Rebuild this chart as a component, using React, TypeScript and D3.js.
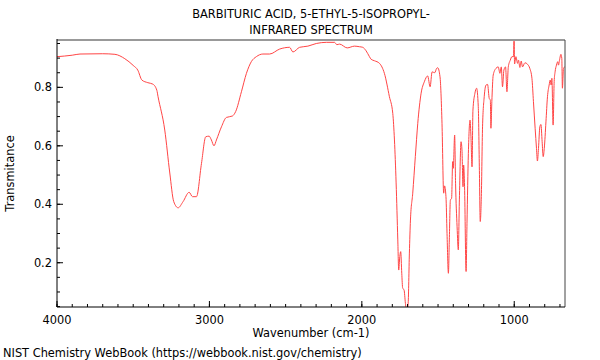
import React from "react";
import * as d3 from "d3";

const wavenumbers = [
  4000, 3900, 3849, 3700, 3620, 3555, 3500, 3470, 3443, 3404, 3371, 3345, 3337, 3293, 3260, 3234, 3205, 3173, 3133, 3111,
  3085, 3052, 3024, 3002, 2987, 2970, 2954, 2921, 2889, 2849, 2828, 2790, 2757, 2725, 2692, 2649, 2605, 2539, 2474, 2452,
  2408, 2354, 2299, 2233, 2179, 2164, 2146, 2096, 2048, 2016, 1994, 1972, 1950, 1939, 1917, 1884, 1852, 1819, 1797, 1786,
  1775, 1764, 1758, 1751, 1745, 1738, 1732, 1723, 1714, 1705, 1696, 1688, 1681, 1666, 1649, 1633, 1611, 1590, 1568, 1552,
  1539, 1522, 1509, 1502, 1487, 1474, 1463, 1457, 1448, 1441, 1432, 1426, 1419, 1411, 1404, 1400, 1391, 1385, 1375, 1367,
  1360, 1349, 1343, 1336, 1332, 1326, 1316, 1310, 1301, 1290, 1284, 1277, 1271, 1258, 1247, 1236, 1229, 1223, 1216, 1208,
  1197, 1185, 1175, 1164, 1157, 1153, 1147, 1138, 1120, 1105, 1094, 1085, 1077, 1068, 1057, 1048, 1039, 1026, 1015, 1005,
  1001, 998, 989, 978, 972, 963, 954, 946, 930, 913, 898, 884, 874, 863, 854, 848, 841, 832, 825, 817,
  810, 803, 792, 782, 771, 764, 758, 753, 745, 738, 732, 723, 714, 710, 701, 694, 688, 684, 677, 670,
];

const transmittance = [
  0.905, 0.910, 0.914, 0.915, 0.913, 0.898, 0.875, 0.859, 0.825, 0.816, 0.811, 0.79, 0.768, 0.654, 0.507, 0.409, 0.388, 0.409, 0.441, 0.426,
  0.426, 0.54, 0.631, 0.633, 0.62, 0.6, 0.62, 0.665, 0.697, 0.702, 0.717, 0.785, 0.848, 0.888, 0.905, 0.914, 0.914, 0.931, 0.937, 0.921,
  0.937, 0.941, 0.95, 0.954, 0.954, 0.946, 0.948, 0.935, 0.941, 0.939, 0.937, 0.925, 0.905, 0.896, 0.891, 0.882, 0.848, 0.768, 0.711, 0.62,
  0.473, 0.278, 0.175, 0.221, 0.238, 0.164, 0.113, 0.107, 0.061, 0.03, 0.062, 0.233, 0.346, 0.438, 0.563, 0.677, 0.78, 0.819, 0.839, 0.802,
  0.853, 0.85, 0.865, 0.867, 0.836, 0.677, 0.438, 0.463, 0.426, 0.3, 0.164, 0.278, 0.415, 0.42, 0.546, 0.523, 0.637, 0.472, 0.323, 0.244,
  0.415, 0.614, 0.586, 0.46, 0.534, 0.46, 0.17, 0.335, 0.574, 0.688, 0.631, 0.528, 0.722, 0.78, 0.797, 0.734, 0.528, 0.341, 0.426, 0.665,
  0.768, 0.808, 0.81, 0.762, 0.757, 0.66, 0.751, 0.842, 0.865, 0.87, 0.848, 0.87, 0.802, 0.859, 0.87, 0.785, 0.87, 0.893, 0.905, 0.905,
  0.98, 0.88, 0.905, 0.882, 0.893, 0.868, 0.89, 0.87, 0.884, 0.879, 0.865, 0.831, 0.751, 0.66, 0.591, 0.548, 0.591, 0.665, 0.673, 0.614,
  0.563, 0.591, 0.682, 0.768, 0.808, 0.825, 0.808, 0.831, 0.671, 0.82, 0.853, 0.876, 0.888, 0.876, 0.899, 0.913, 0.899, 0.797, 0.865, 0.87,
];

const xMajorTicks = [4000, 3000, 2000, 1000];
const yMajorTicks = [0.2, 0.4, 0.6, 0.8];
const titleLines = ["BARBITURIC ACID, 5-ETHYL-5-ISOPROPYL-", "INFRARED SPECTRUM"];
const xLabel = "Wavenumber (cm-1)";
const yLabel = "Transmitance";
const footer = "NIST Chemistry WebBook (https://webbook.nist.gov/chemistry)";

const W = 600;
const H = 360;
const left = 57;
const right = 565;
const top = 40;
const bottom = 307;
const FS = 11.4;

export default function App() {
  const x = d3.scaleLinear().domain([4000, 667]).range([left, right]);
  const y = d3.scaleLinear().domain([0.0486, 0.962]).range([bottom, top]);

  const pts = wavenumbers.map((w, i) => [w, transmittance[i]] as [number, number]);
  const line = d3
    .line<[number, number]>()
    .x((d) => x(d[0]))
    .y((d) => y(d[1]))
    .curve(d3.curveMonotoneX);

  const xMinor = d3.range(700, 4001, 100);
  const yMinor = d3.range(0.05, 0.96, 0.05);
  const font = "DejaVu Sans, sans-serif";

  return (
    <svg
      width={W}
      height={H}
      style={{ position: "absolute", left: 0, top: 0, background: "#fff" }}
      fontFamily={font}
    >
      <defs>
        <clipPath id="plotclip">
          <rect x={left} y={top} width={right - left} height={bottom - top} />
        </clipPath>
      </defs>
      <rect x={0} y={0} width={W} height={H} fill="#fff" />
      {titleLines.map((t, i) => (
        <text key={t} x={(left + right) / 2} y={18 + i * 16} textAnchor="middle" fontSize={FS} fill="#000">
          {t}
        </text>
      ))}
      <path d={line(pts) || ""} fill="none" stroke="#ff4545" strokeWidth={1} clipPath="url(#plotclip)" />
      <line x1={left} x2={right} y1={top} y2={top} stroke="#999" strokeWidth={2} />
      <line x1={right} x2={right} y1={top} y2={bottom} stroke="#444" strokeWidth={1} />
      <line x1={left} x2={left} y1={top - 1} y2={bottom} stroke="#000" strokeWidth={1} />
      <line x1={left} x2={right} y1={bottom} y2={bottom} stroke="#000" strokeWidth={1} />
      {xMinor.map((v) => (
        <line key={"xm" + v} x1={x(v)} x2={x(v)} y1={bottom} y2={bottom - 3} stroke="#000" />
      ))}
      {xMajorTicks.map((v) => (
        <g key={"xM" + v}>
          <line x1={x(v)} x2={x(v)} y1={bottom} y2={bottom - 6} stroke="#000" />
          <text x={x(v)} y={bottom + 17} textAnchor="middle" fontSize={FS} fill="#000">
            {v}
          </text>
        </g>
      ))}
      {yMinor.map((v) => (
        <line key={"ym" + v} x1={left} x2={left + 3} y1={y(v)} y2={y(v)} stroke="#000" />
      ))}
      {yMajorTicks.map((v) => (
        <g key={"yM" + v}>
          <line x1={left} x2={left + 6} y1={y(v)} y2={y(v)} stroke="#000" />
          <text x={left - 5} y={y(v) + 4} textAnchor="end" fontSize={FS} fill="#000">
            {v.toFixed(1)}
          </text>
        </g>
      ))}
      <text x={(left + right) / 2} y={337} textAnchor="middle" fontSize={FS} fill="#000">
        {xLabel}
      </text>
      <text
        transform={`translate(14, ${(top + bottom) / 2}) rotate(-90)`}
        textAnchor="middle"
        fontSize={FS}
        fill="#000"
      >
        {yLabel}
      </text>
      <text x={3} y={357} fontSize={FS} fill="#000">
        {footer}
      </text>
    </svg>
  );
}
